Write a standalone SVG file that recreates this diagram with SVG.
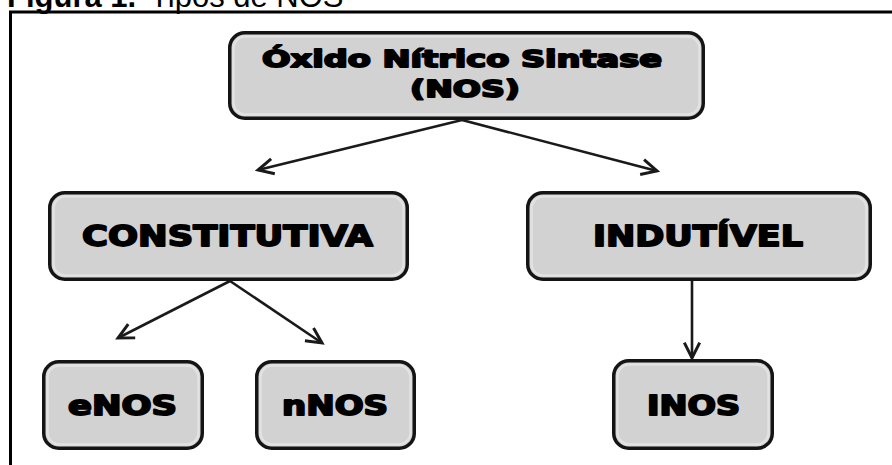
<svg xmlns="http://www.w3.org/2000/svg" width="892" height="465" viewBox="0 0 892 465">
<style>
.box{fill:#d2d2d2;stroke:#141414;stroke-width:3.5}
.inner{fill:none;stroke:#e2e2e2;stroke-width:2.5}
.lbl{font-family:"DejaVu Sans","Liberation Sans",sans-serif;font-weight:bold;fill:#000;stroke:#000;stroke-width:1.8;stroke-linejoin:round;text-anchor:middle}
.conn{fill:none;stroke:#1a1a1a;stroke-width:2.6}
.title{font-family:"Liberation Sans",Arial,sans-serif;font-size:31px;fill:#000}
</style>
<defs>
<marker id="arr" markerUnits="userSpaceOnUse" markerWidth="22" markerHeight="22" viewBox="-2 -10 19 20" refX="14" refY="0" orient="auto">
<path d="M0,-7 L14,0 L0,7" fill="none" stroke="#1a1a1a" stroke-width="2.7" stroke-linejoin="miter"/>
</marker>
</defs>
<rect width="892" height="465" fill="#fff"/>
<text class="title" x="7" y="7"><tspan font-weight="bold">Figura 1.</tspan><tspan x="150">Tipos de NOS</tspan></text>
<path d="M10.5,465 V12 H892" fill="none" stroke="#000" stroke-width="3"/>
<g id="connectors">
<path class="conn" d="M462,120 L258,170" marker-end="url(#arr)"/>
<path class="conn" d="M462,120 L657,171" marker-end="url(#arr)"/>
<path class="conn" d="M230,281 L118,338" marker-end="url(#arr)"/>
<path class="conn" d="M230,281 L322,343" marker-end="url(#arr)"/>
<path class="conn" d="M692,281 L692,358" marker-end="url(#arr)"/>
</g>
<g id="nos">
<rect class="box" x="229.75" y="32.75" width="473.5" height="85.5" rx="15"/>
<rect class="inner" x="233.5" y="36.5" width="466" height="78" rx="12"/>
<text class="lbl" x="462" y="67" font-size="23" textLength="400" lengthAdjust="spacingAndGlyphs">Óxido Nítrico Sintase</text>
<text class="lbl" x="465" y="97" font-size="23" textLength="110" lengthAdjust="spacingAndGlyphs">(NOS)</text>
</g>
<g id="constitutiva">
<rect class="box" x="49.75" y="192.75" width="357.5" height="86.5" rx="15"/>
<rect class="inner" x="53.5" y="196.5" width="350" height="79" rx="12"/>
<text class="lbl" x="227.5" y="246" font-size="29" textLength="291" lengthAdjust="spacingAndGlyphs">CONSTITUTIVA</text>
</g>
<g id="indutivel">
<rect class="box" x="527.75" y="192.75" width="342.5" height="86.5" rx="15"/>
<rect class="inner" x="531.5" y="196.5" width="335" height="79" rx="12"/>
<text class="lbl" x="698" y="246" font-size="29" textLength="210" lengthAdjust="spacingAndGlyphs">INDUTÍVEL</text>
</g>
<g id="enos">
<rect class="box" x="43.75" y="361.75" width="158.5" height="86.5" rx="15"/>
<rect class="inner" x="47.5" y="365.5" width="151" height="79" rx="12"/>
<text class="lbl" x="122.5" y="415" font-size="26" textLength="109" lengthAdjust="spacingAndGlyphs">eNOS</text>
</g>
<g id="nnos">
<rect class="box" x="256.75" y="361.75" width="157.5" height="86.5" rx="15"/>
<rect class="inner" x="260.5" y="365.5" width="150" height="79" rx="12"/>
<text class="lbl" x="335" y="415" font-size="26" textLength="106" lengthAdjust="spacingAndGlyphs">nNOS</text>
</g>
<g id="inos">
<rect class="box" x="613.75" y="360.75" width="158.5" height="87.5" rx="15"/>
<rect class="inner" x="617.5" y="364.5" width="151" height="80" rx="12"/>
<text class="lbl" x="693.5" y="415" font-size="26" textLength="93" lengthAdjust="spacingAndGlyphs">INOS</text>
</g>
</svg>
